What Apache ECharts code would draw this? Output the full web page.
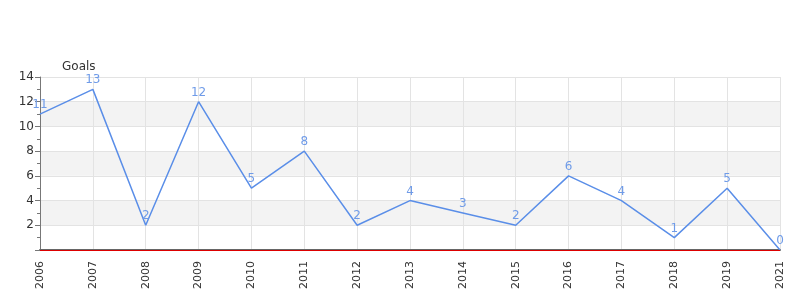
<!DOCTYPE html>
<html><head><meta charset="utf-8">
<script src="https://cdn.jsdelivr.net/npm/echarts@6/dist/echarts.min.js"></script>
<style>html,body{margin:0;padding:0;background:#fff}#c{width:800px;height:300px}</style>
</head><body><div id="c"></div>
<script>
const years = ['2006','2007','2008','2009','2010','2011','2012','2013','2014','2015','2016','2017','2018','2019','2021'];
const goals = [11,13,2,12,5,8,2,4,3,2,6,4,1,5,0];
const yTicks = [0,2,4,6,8,10,12,14];
const chart = echarts.init(document.getElementById('c'));
chart.setOption({
  animation:false,
  grid:{left:40,right:20,top:77,bottom:50},
  xAxis:{type:'category',data:years,boundaryGap:false,
    axisLine:{lineStyle:{color:'#666',width:2}},
    axisTick:{show:false},
    axisLabel:{rotate:90,color:'#333',fontFamily:'DejaVu Sans',fontSize:11,margin:11},
    splitLine:{show:true,lineStyle:{color:'#e3e3e3'}}},
  yAxis:{type:'value',min:yTicks[0],max:yTicks[yTicks.length-1],interval:2,
    name:'Goals',nameLocation:'end',nameGap:4,
    nameTextStyle:{color:'#333',fontFamily:'DejaVu Sans',fontSize:12,align:'left',padding:[0,0,0,22]},
    axisLine:{show:true,lineStyle:{color:'#777'}},
    axisTick:{show:true,length:5,lineStyle:{color:'#777'}},
    minorTick:{show:true,splitNumber:2,length:3,lineStyle:{color:'#777'}},
    axisLabel:{color:'#333',fontFamily:'DejaVu Sans',fontSize:12,showMinLabel:false,margin:6},
    splitLine:{lineStyle:{color:'#e3e3e3'}},
    splitArea:{show:true,areaStyle:{color:['rgba(255,255,255,0)','#f3f3f3']}}},
  series:[{type:'line',data:goals,symbol:'circle',symbolSize:0.1,
    lineStyle:{color:'#5a8ee8',width:1.5},itemStyle:{color:'#5a8ee8'},
    label:{show:true,position:'top',distance:3,color:'#6f9be8',fontFamily:'DejaVu Sans',fontSize:12},
    markLine:{silent:true,symbol:'none',label:{show:false},
      lineStyle:{color:'#d00',type:'solid',width:1},data:[{yAxis:0}]}}]
});
</script></body></html>
